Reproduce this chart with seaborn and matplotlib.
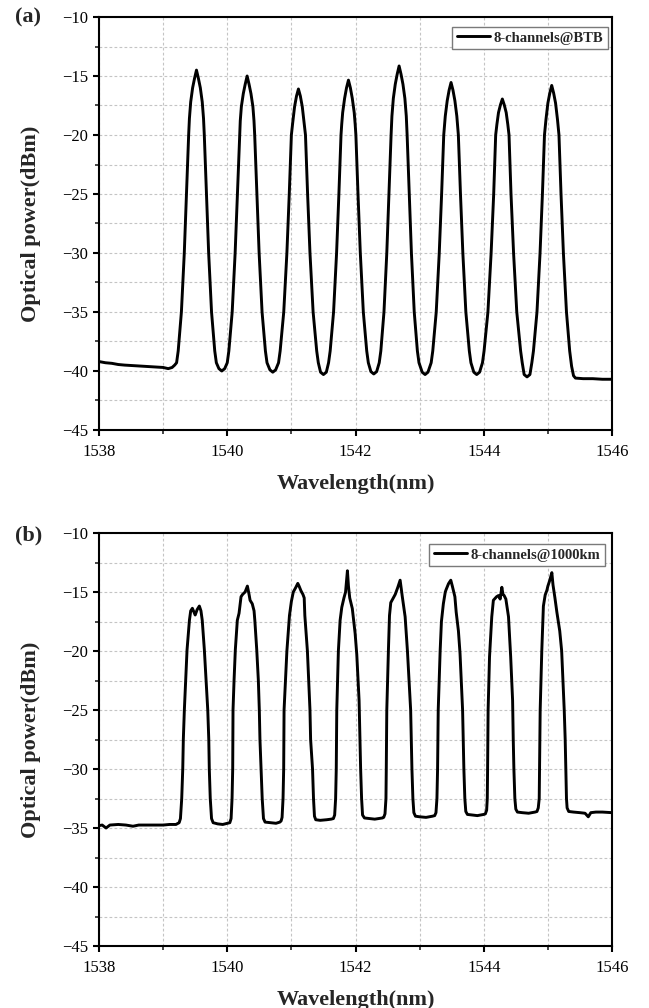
import matplotlib
matplotlib.use("Agg")
import matplotlib.pyplot as plt
from matplotlib.ticker import MultipleLocator
import seaborn as sns
import pandas as pd

# ---------------- data ----------------
x_ticks = [1538, 1540, 1542, 1544, 1546]
y_ticks = [-45, -40, -35, -30, -25, -20, -15, -10]
panel_tags = ["(a)", "(b)"]
legend_labels = ["8-channels@BTB", "8-channels@1000km"]
x_label = "Wavelength(nm)"
y_label = "Optical power(dBm)"

wl_btb = [
    1538.00, 1538.10, 1538.20, 1538.30, 1538.40, 1538.55, 1538.70, 1538.85, 1539.00, 1539.08, 1539.14, 1539.18,
    1539.21, 1539.235, 1539.285, 1539.33, 1539.364, 1539.398, 1539.41, 1539.43, 1539.46, 1539.49, 1539.52,
    1539.55, 1539.58, 1539.61, 1539.63, 1539.642, 1539.676, 1539.71, 1539.755, 1539.805, 1539.83,
    1539.87, 1539.915, 1539.96,
    1540.00, 1540.025, 1540.077, 1540.123, 1540.158, 1540.192, 1540.203, 1540.22, 1540.25, 1540.28, 1540.31,
    1540.34, 1540.37, 1540.40, 1540.417, 1540.428, 1540.462, 1540.497, 1540.543, 1540.595, 1540.62,
    1540.665, 1540.71, 1540.755,
    1540.80, 1540.825, 1540.881, 1540.93, 1540.967, 1541.00, 1541.02, 1541.05, 1541.08, 1541.11,
    1541.14, 1541.17, 1541.20, 1541.22, 1541.253, 1541.29, 1541.339, 1541.395, 1541.42,
    1541.455, 1541.50, 1541.545,
    1541.58, 1541.605, 1541.658, 1541.705, 1541.741, 1541.774, 1541.785, 1541.80, 1541.83, 1541.86, 1541.89,
    1541.92, 1541.95, 1541.98, 1541.995, 1542.006, 1542.039, 1542.075, 1542.122, 1542.175, 1542.20,
    1542.24, 1542.285, 1542.33,
    1542.37, 1542.395, 1542.444, 1542.488, 1542.521, 1542.555, 1542.568, 1542.59, 1542.62, 1542.65, 1542.68,
    1542.71, 1542.74, 1542.77, 1542.792, 1542.805, 1542.839, 1542.872, 1542.916, 1542.965, 1542.99,
    1543.04, 1543.085, 1543.13,
    1543.18, 1543.205, 1543.259, 1543.306, 1543.343, 1543.376, 1543.386, 1543.40, 1543.43, 1543.46, 1543.49,
    1543.52, 1543.55, 1543.58, 1543.594, 1543.604, 1543.637, 1543.674, 1543.721, 1543.775, 1543.80,
    1543.845, 1543.89, 1543.935,
    1543.98, 1544.005, 1544.065, 1544.115, 1544.155, 1544.186, 1544.205, 1544.23, 1544.26, 1544.29,
    1544.32, 1544.35, 1544.375, 1544.394, 1544.425, 1544.465, 1544.515, 1544.575, 1544.60,
    1544.63, 1544.675, 1544.72,
    1544.75, 1544.775, 1544.83, 1544.878, 1544.915, 1544.947, 1544.97, 1545.00, 1545.03, 1545.06,
    1545.09, 1545.12, 1545.15, 1545.173, 1545.205, 1545.242, 1545.29, 1545.34, 1545.37,
    1545.40, 1545.43, 1545.55, 1545.70, 1545.85, 1546.00,
]
pw_btb = [
    -39.2, -39.3, -39.35, -39.45, -39.5, -39.55, -39.6, -39.65, -39.7, -39.8, -39.7, -39.5,
    -39.3, -38.3, -35.0, -30.0, -25.0, -20.0, -18.6, -17.2, -16.0, -15.2, -14.5,
    -15.2, -16.0, -17.2, -18.6, -20.0, -25.0, -30.0, -35.0, -38.3, -39.3,
    -39.8, -40.0, -39.8,
    -39.3, -38.3, -35.0, -30.0, -25.0, -20.0, -18.8, -17.6, -16.5, -15.7, -15.0,
    -15.7, -16.5, -17.6, -18.8, -20.0, -25.0, -30.0, -35.0, -38.3, -39.3,
    -39.9, -40.1, -39.9,
    -39.3, -38.3, -35.0, -30.0, -25.0, -20.0, -19.0, -17.6, -16.7, -16.1,
    -16.7, -17.6, -19.0, -20.0, -25.0, -30.0, -35.0, -38.3, -39.3,
    -40.1, -40.3, -40.1,
    -39.3, -38.3, -35.0, -30.0, -25.0, -20.0, -19.1, -18.1, -16.9, -16.0, -15.35,
    -16.0, -16.9, -18.1, -19.1, -20.0, -25.0, -30.0, -35.0, -38.3, -39.3,
    -40.05, -40.25, -40.05,
    -39.3, -38.3, -35.0, -30.0, -25.0, -20.0, -18.4, -16.9, -15.7, -14.85, -14.15,
    -14.85, -15.7, -16.9, -18.4, -20.0, -25.0, -30.0, -35.0, -38.3, -39.3,
    -40.1, -40.3, -40.1,
    -39.3, -38.3, -35.0, -30.0, -25.0, -20.0, -19.3, -18.4, -17.1, -16.2, -15.55,
    -16.2, -17.1, -18.4, -19.3, -20.0, -25.0, -30.0, -35.0, -38.3, -39.3,
    -40.1, -40.3, -40.1,
    -39.3, -38.3, -35.0, -30.0, -25.0, -20.0, -19.1, -18.1, -17.45, -16.95,
    -17.45, -18.1, -19.1, -20.0, -25.0, -30.0, -35.0, -38.3, -39.3,
    -40.3, -40.5, -40.3,
    -39.3, -38.3, -35.0, -30.0, -25.0, -20.0, -18.7, -17.3, -16.45, -15.8,
    -16.45, -17.3, -18.7, -20.0, -25.0, -30.0, -35.0, -38.3, -39.6,
    -40.4, -40.6, -40.65, -40.65, -40.7, -40.7,
]

wl_1000 = [
    1538.00, 1538.05, 1538.11, 1538.17, 1538.30, 1538.42, 1538.53, 1538.62, 1538.80, 1539.00, 1539.10, 1539.20,
    1539.25, 1539.27, 1539.29, 1539.306, 1539.315, 1539.331, 1539.352, 1539.373, 1539.41, 1539.43, 1539.456,
    1539.48, 1539.50, 1539.53, 1539.565, 1539.59, 1539.61, 1539.643, 1539.67, 1539.696, 1539.712, 1539.72,
    1539.735, 1539.755, 1539.78,
    1539.85, 1539.93, 1540.00,
    1540.04, 1540.06, 1540.075, 1540.085, 1540.09, 1540.106, 1540.126, 1540.157, 1540.184, 1540.215, 1540.24,
    1540.278, 1540.314, 1540.34, 1540.356, 1540.39, 1540.418, 1540.43, 1540.46, 1540.485, 1540.50, 1540.51,
    1540.527, 1540.545, 1540.565, 1540.59,
    1540.68, 1540.76, 1540.82,
    1540.84, 1540.855, 1540.87, 1540.88, 1540.886, 1540.93, 1540.97, 1541.00, 1541.03, 1541.07, 1541.10,
    1541.12, 1541.15, 1541.18, 1541.20, 1541.21, 1541.25, 1541.29, 1541.30, 1541.33, 1541.345, 1541.36, 1541.38,
    1541.45, 1541.55, 1541.62,
    1541.655, 1541.675, 1541.69, 1541.70, 1541.708, 1541.733, 1541.76, 1541.786, 1541.82, 1541.845, 1541.874,
    1541.89, 1541.91, 1541.95, 1541.994, 1542.02, 1542.056, 1542.07, 1542.08, 1542.095, 1542.11, 1542.14,
    1542.22, 1542.30, 1542.42,
    1542.44, 1542.46, 1542.475, 1542.48, 1542.488, 1542.513, 1542.53, 1542.55, 1542.59, 1542.62, 1542.66,
    1542.696, 1542.71, 1542.73, 1542.774, 1542.81, 1542.86, 1542.87, 1542.88, 1542.895, 1542.91, 1542.935,
    1543.00, 1543.10, 1543.20,
    1543.235, 1543.255, 1543.27, 1543.28, 1543.29, 1543.32, 1543.34, 1543.37, 1543.40, 1543.413, 1543.45,
    1543.486, 1543.51, 1543.55, 1543.57, 1543.605, 1543.63, 1543.67, 1543.68, 1543.69, 1543.705, 1543.72, 1543.745,
    1543.82, 1543.90, 1544.00,
    1544.025, 1544.045, 1544.055, 1544.06, 1544.068, 1544.09, 1544.125, 1544.15, 1544.20, 1544.23, 1544.256,
    1544.282, 1544.30, 1544.318, 1544.345, 1544.386, 1544.42, 1544.45, 1544.46, 1544.47, 1544.485, 1544.50, 1544.525,
    1544.60, 1544.70, 1544.80,
    1544.83, 1544.85, 1544.865, 1544.87, 1544.88, 1544.905, 1544.93, 1544.958, 1544.985, 1545.00, 1545.03,
    1545.062, 1545.08, 1545.11, 1545.14, 1545.185, 1545.215, 1545.255, 1545.27, 1545.28, 1545.29, 1545.30, 1545.325,
    1545.40, 1545.50, 1545.58, 1545.63, 1545.67, 1545.75, 1545.85, 1546.00,
]
pw_1000 = [
    -34.8, -34.75, -35.0, -34.75, -34.7, -34.75, -34.85, -34.75, -34.75, -34.75, -34.7, -34.7,
    -34.55, -34.2, -32.5, -30.0, -27.5, -25.0, -22.5, -19.9, -17.4, -16.6, -16.38,
    -16.7, -16.95, -16.5, -16.19, -16.6, -17.4, -19.9, -22.5, -25.0, -27.5, -30.0,
    -32.5, -34.2, -34.55,
    -34.65, -34.7, -34.6,
    -34.55, -34.2, -32.5, -30.0, -25.0, -22.5, -19.9, -17.4, -16.8, -15.4, -15.2,
    -15.0, -14.5, -15.2, -15.7, -16.0, -16.6, -17.4, -19.9, -22.5, -25.0, -27.5,
    -30.0, -32.5, -34.2, -34.5,
    -34.55, -34.6, -34.5,
    -34.4, -34.1, -32.5, -30.0, -25.0, -20.0, -17.0, -15.8, -15.0, -14.6, -14.27,
    -14.5, -14.9, -15.2, -15.5, -17.0, -20.0, -25.0, -27.5, -30.0, -32.5, -34.0, -34.3,
    -34.35, -34.3, -34.25,
    -34.2, -33.9, -32.5, -30.0, -25.0, -20.0, -17.4, -16.3, -15.5, -15.0, -13.2,
    -14.5, -15.5, -16.4, -18.5, -20.3, -24.2, -27.5, -30.0, -32.5, -33.9, -34.15,
    -34.2, -34.25, -34.15,
    -34.1, -33.8, -32.5, -30.0, -25.0, -20.0, -17.0, -15.9, -15.5, -15.2, -14.6,
    -14.0, -14.6, -15.4, -17.1, -20.0, -25.0, -27.5, -30.0, -32.5, -33.7, -34.0,
    -34.05, -34.1, -34.0,
    -33.95, -33.7, -32.5, -30.0, -25.0, -20.0, -17.5, -16.0, -15.0, -14.8, -14.3,
    -14.0, -14.5, -15.4, -16.7, -18.3, -20.2, -25.0, -27.5, -30.0, -32.5, -33.6, -33.85,
    -33.9, -33.95, -33.85,
    -33.8, -33.5, -32.5, -30.0, -25.0, -20.5, -17.1, -15.7, -15.4, -15.3, -15.6,
    -14.6, -15.2, -15.3, -15.6, -17.1, -20.5, -24.2, -27.5, -30.0, -32.5, -33.4, -33.65,
    -33.7, -33.75, -33.65,
    -33.6, -33.3, -32.5, -30.0, -25.0, -20.0, -16.2, -15.25, -14.85, -14.5, -14.0,
    -13.36, -14.4, -15.5, -16.7, -18.3, -20.0, -25.0, -27.5, -30.0, -32.5, -33.3, -33.6,
    -33.65, -33.7, -33.75, -34.05, -33.7, -33.65, -33.65, -33.7,
]

# ---------------- style ----------------
sns.set_style("ticks")
SERIF = ["Liberation Serif", "DejaVu Serif"]
plt.rcParams["font.family"] = SERIF
plt.rcParams["axes.unicode_minus"] = True

W, H = 649, 1008
fig = plt.figure(figsize=(W / 100, H / 100), dpi=100)

ax_left = 99 / W
ax_w = 513 / W
ax_h = 413 / H
axes = [
    fig.add_axes([ax_left, 1 - 430 / H, ax_w, ax_h]),
    fig.add_axes([ax_left, 1 - 946 / H, ax_w, ax_h]),
]

datasets = [(wl_btb, pw_btb), (wl_1000, pw_1000)]
legend_anchor = [(1 - 4 / 513, 1 - 10 / 413), (1 - 7 / 513, 1 - 11 / 413)]
tag_y = [17, 535]

for i, ax in enumerate(axes):
    wl, pw = datasets[i]
    df = pd.DataFrame({"wl": wl, "pw": pw})
    sns.lineplot(data=df, x="wl", y="pw", sort=False, estimator=None,
                 color="black", linewidth=2.1, ax=ax, label=legend_labels[i])

    ax.set_xlim(1538, 1546)
    ax.set_ylim(-45, -10)
    ax.set_xticks(x_ticks)
    ax.set_yticks(y_ticks)
    ax.xaxis.set_minor_locator(MultipleLocator(1))
    ax.yaxis.set_minor_locator(MultipleLocator(2.5))

    ax.grid(True, which="both", color="#c4c4c4", linestyle=(0, (2.5, 2)), linewidth=0.8)
    ax.set_axisbelow(True)

    for s in ax.spines.values():
        s.set_visible(True)
        s.set_linewidth(1.5)
        s.set_color("black")

    ax.tick_params(axis="both", which="major", direction="out", length=4, width=1.5,
                   labelsize=12, pad=4, top=False, right=False, colors="black")
    ax.tick_params(axis="both", which="minor", direction="out", length=3, width=1.2,
                   top=False, right=False)
    ax.tick_params(axis="x", which="major", pad=6)

    ax.set_xlabel(x_label, fontsize=16, fontweight="bold", labelpad=10)
    ax.set_ylabel(y_label, fontsize=16, fontweight="bold", labelpad=15)

    leg = ax.legend(loc="upper right", bbox_to_anchor=legend_anchor[i], borderaxespad=0,
                    prop={"family": SERIF, "weight": "bold", "size": 10.5},
                    frameon=True, fancybox=False, framealpha=1, edgecolor="#7a7a7a",
                    handlelength=2.3, handletextpad=0.25, borderpad=0.3)
    leg.get_frame().set_linewidth(1.0)

    fig.text(15 / W, 1 - tag_y[i] / H, panel_tags[i], fontsize=16, fontweight="bold",
             ha="left", va="center")

fig.savefig("out.png", dpi=100)
